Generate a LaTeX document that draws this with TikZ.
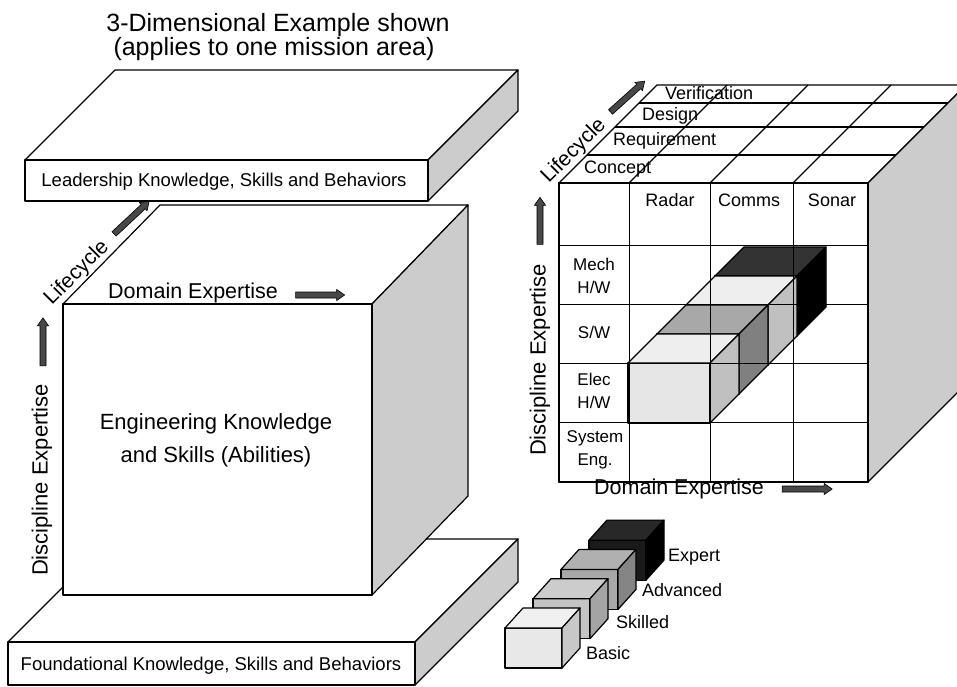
\documentclass[tikz,border=0pt]{standalone}
\usepackage{fontspec}
\setmainfont{Liberation Sans}
\usetikzlibrary{shapes.arrows}
\definecolor{sidegray}{RGB}{204,204,204}
\definecolor{arrowgray}{RGB}{72,72,72}
\begin{document}
\begin{tikzpicture}[x=1pt,y=-1pt,
  face/.style={draw=black,line width=1.2pt,line join=round},
  gridline/.style={draw=black,line width=1pt},
  lbl/.style={inner sep=0pt,outer sep=0pt,font=\fontsize{18}{23}\selectfont},
  biglbl/.style={inner sep=0pt,outer sep=0pt,font=\fontsize{22}{33}\selectfont},
  blockarrow/.style={single arrow,draw=black,fill=arrowgray,line width=0.6pt,
    minimum height=#1,inner xsep=0pt,inner ysep=2.7pt,single arrow head extend=2.6pt,
    single arrow tip angle=70}]
\path[use as bounding box] (0,0) rectangle (957,687);
\path[fill=white] (0,0) rectangle (957,687);
% title
\node[inner sep=0pt,anchor=base,font=\fontsize{25}{30}\selectfont] (title1) at (278,32) {3-Dimensional Example shown};
\node[inner sep=0pt,anchor=base,font=\fontsize{25}{30}\selectfont] (title2) at (274,56) {(applies to one mission area)};
% leadership slab
\draw[face,fill=white] (25,160) -- (115,70) -- (518,70) -- (428,160) -- cycle;
\draw[face,fill=sidegray] (428,160) -- (518,70) -- (518,111) -- (428,201) -- cycle;
\draw[face,fill=white] (25,160) rectangle (428,201);
\node[lbl,font=\fontsize{18.5}{22}\selectfont] (lead) at (224,182) {Leadership Knowledge, Skills and Behaviors};
% foundational slab
\draw[face,fill=white] (8,642) -- (111,539) -- (518,539) -- (415,642) -- cycle;
\draw[face,fill=sidegray] (415,642) -- (518,539) -- (518,582) -- (415,685) -- cycle;
\draw[face,fill=white] (8,642) rectangle (415,685);
\node[lbl,font=\fontsize{18.5}{22}\selectfont] (found) at (211,666) {Foundational Knowledge, Skills and Behaviors};
% engineering cube
\draw[face,fill=white] (63,304) -- (160,205) -- (468,205) -- (372,304) -- cycle;
\draw[face,fill=sidegray] (372,304) -- (468,205) -- (468,496) -- (372,595) -- cycle;
\draw[face,fill=white] (63,304) rectangle (372,595);
\node[biglbl,align=center] (eng) at (216,440) {Engineering Knowledge\\and Skills (Abilities)};
\node[biglbl,font=\fontsize{21.5}{26}\selectfont] (domL) at (193,293) {Domain Expertise};
\node[blockarrow=49pt] (domLarr) at (318,295) {};
\node[biglbl,rotate=90] (discL) at (42,480) {Discipline Expertise};
\node[blockarrow=48pt,rotate=90] (discLarr) at (43,344) {};
\node[biglbl,font=\fontsize{21}{26}\selectfont,rotate=45] (lifeL) at (77,273) {Lifecycle};
\node[blockarrow=48pt,rotate=43] (lifeLarr) at (130,219) {};
% mission area cube
\draw[face,fill=white] (559,183) -- (657,85) -- (966,85) -- (868,183) -- cycle;
\foreach \d in {28,56,80}
  \draw[face] (559+\d,183-\d) -- (868+\d,183-\d);
\foreach \x in {629,710,793}
  \draw[face] (\x,183) -- (\x+98,85);
\draw[face,fill=sidegray] (868,183) -- (966,85) -- (966,384) -- (868,482) -- cycle;
\draw[face,fill=white] (559,183) rectangle (868,482);
% proficiency blocks, back to front
\foreach \k/\cf/\ct/\cs in {3/34/51/0, 2/230/238/192, 1/176/168/128, 0/230/238/192} {
  \draw[face,fill={rgb,255:red,\cf;green,\cf;blue,\cf}] (628+29*\k,363-29*\k) rectangle +(82,60);
  \draw[face,fill={rgb,255:red,\ct;green,\ct;blue,\ct}] (628+29*\k,363-29*\k) -- ++(29,-29) -- ++(82,0) -- ++(-29,29) -- cycle;
  \draw[face,fill={rgb,255:red,\cs;green,\cs;blue,\cs}] (710+29*\k,363-29*\k) -- ++(29,-29) -- ++(0,60) -- ++(-29,29) -- cycle;
}
% front grid
\foreach \x in {629,710,793}
  \draw[gridline] (\x,183) -- (\x,482);
\foreach \y in {245,304,363,422}
  \draw[gridline] (559,\y) -- (868,\y);
\draw[face] (559,183) rectangle (868,482);
\node[lbl] (radar) at (670,200) {Radar};
\node[lbl] (comms) at (749,200) {Comms};
\node[lbl] (sonar) at (832,200) {Sonar};
\node[lbl,align=center,font=\fontsize{17}{23}\selectfont] (mech) at (594,276) {Mech\\H/W};
\node[lbl,font=\fontsize{17}{23}\selectfont] (sw) at (594,332) {S/W};
\node[lbl,align=center,font=\fontsize{17}{23}\selectfont] (elec) at (594,391) {Elec\\H/W};
\node[lbl,align=center,font=\fontsize{17}{23}\selectfont] (syseng) at (595,450) {System\\Eng.};
\node[lbl,anchor=west] (verif) at (665,93) {Verification};
\node[lbl,anchor=west] (design) at (642,116) {Design};
\node[lbl,anchor=west] (req) at (613,141) {Requirement};
\node[lbl,anchor=west] (concept) at (584,169) {Concept};
\node[biglbl,font=\fontsize{21.5}{26}\selectfont] (domR) at (679,489) {Domain Expertise};
\node[blockarrow=50pt] (domRarr) at (805,489) {};
\node[biglbl,rotate=90] (discR) at (540,360) {Discipline Expertise};
\node[blockarrow=47pt,rotate=90] (discRarr) at (540,223) {};
\node[biglbl,font=\fontsize{21}{26}\selectfont,rotate=45] (lifeR) at (574,151) {Lifecycle};
\node[blockarrow=46pt,rotate=42] (lifeRarr) at (626,98) {};
% legend cubes, back to front
\foreach \k/\cf/\ct/\cs in {3/26/40/0, 2/168/176/133, 1/196/204/164, 0/232/240/200} {
  \draw[face,fill={rgb,255:red,\cf;green,\cf;blue,\cf}] (505+28*\k,628-29.3*\k) rectangle +(57,40);
  \draw[face,fill={rgb,255:red,\ct;green,\ct;blue,\ct}] (505+28*\k,628-29.3*\k) -- ++(18,-20) -- ++(57,0) -- ++(-18,20) -- cycle;
  \draw[face,fill={rgb,255:red,\cs;green,\cs;blue,\cs}] (562+28*\k,628-29.3*\k) -- ++(18,-20) -- ++(0,40) -- ++(-18,20) -- cycle;
}
\node[lbl,anchor=west] (expert) at (668,557) {Expert};
\node[lbl,anchor=west] (advanced) at (642,590) {Advanced};
\node[lbl,anchor=west] (skilled) at (616,622) {Skilled};
\node[lbl,anchor=west] (basic) at (586,653) {Basic};
\end{tikzpicture}
\end{document}
